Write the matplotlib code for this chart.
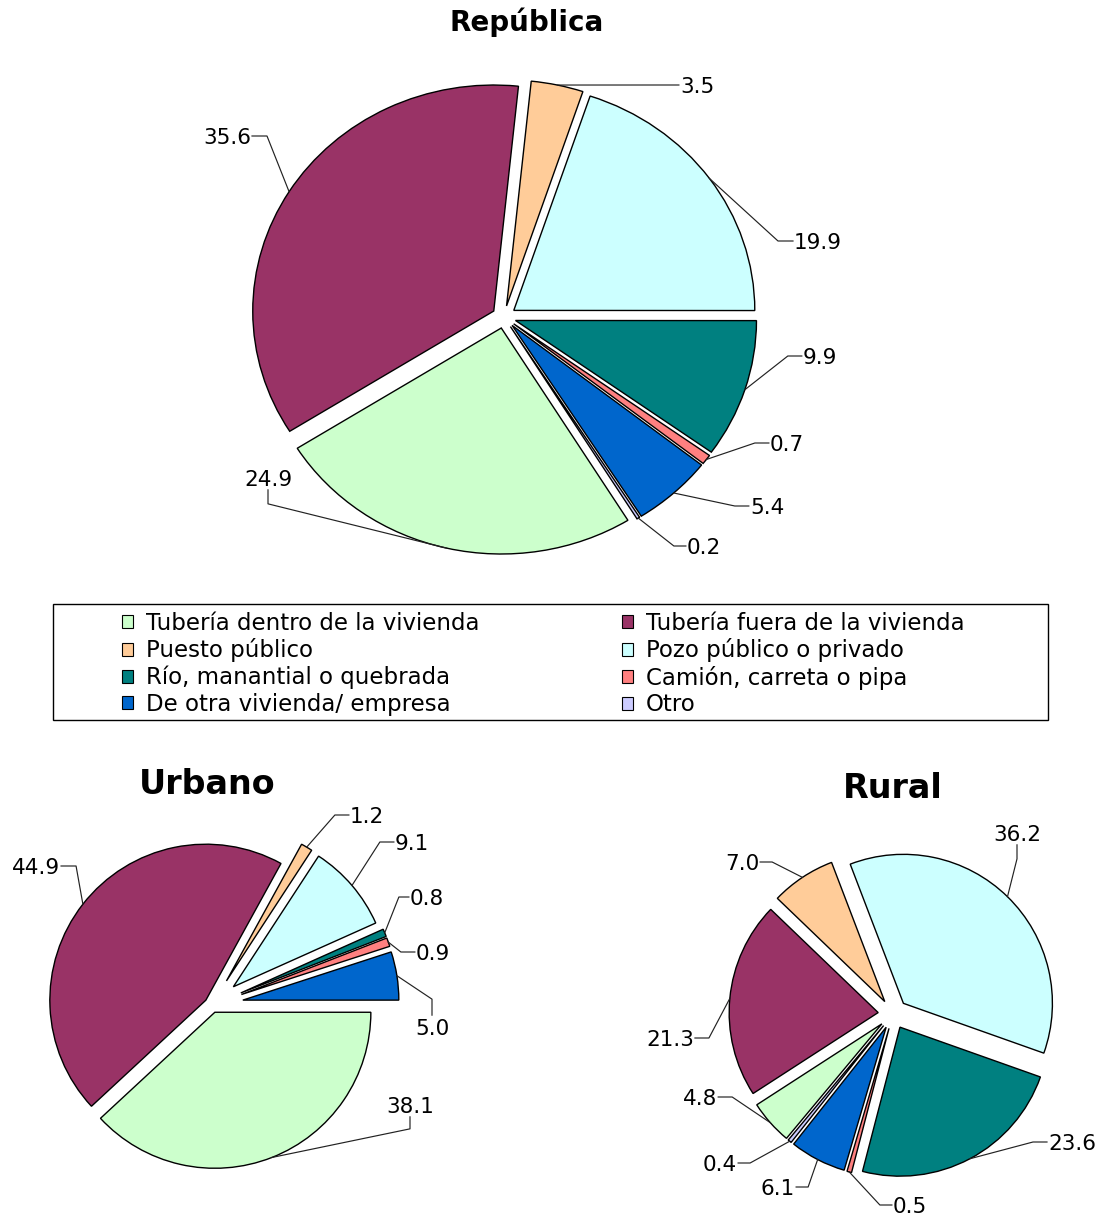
import matplotlib
matplotlib.use("Agg")
import matplotlib.pyplot as plt
from matplotlib.patches import Patch, Rectangle
import numpy as np

# Datos (porcentajes de hogares por fuente de agua)
categorias = ["Tubería dentro de la vivienda", "Tubería fuera de la vivienda",
              "Puesto público", "Pozo público o privado",
              "Río, manantial o quebrada", "Camión, carreta o pipa",
              "De otra vivienda/ empresa", "Otro"]
colores = ["#CCFFCC", "#993366", "#FFCC99", "#CCFFFF",
           "#008080", "#FF8080", "#0066CC", "#CCCCFF"]

republica = [24.9, 35.6, 3.5, 19.9, 9.9, 0.7, 5.4, 0.2]
urbano = [38.1, 44.9, 1.2, 9.1, 0.8, 0.9, 5.0, 0.0]
rural = [4.8, 21.3, 7.0, 36.2, 23.6, 0.5, 6.1, 0.4]

W, H = 1104, 1219
FS_ETIQ = 15.5
FS_LEY = 16.5

fig = plt.figure(figsize=(W / 100, H / 100), dpi=100)
capa = fig.add_axes([0, 0, 1, 1], zorder=5)
capa.set_xlim(0, W)
capa.set_ylim(H, 0)
capa.axis("off")
renderer = fig.canvas.get_renderer()

alto_dig = 0.729 * FS_ETIQ * 100 / 72


def pastel(valores, centro, radios, inicio, explode, etiquetas):
    cx, cy = centro
    rx, ry = radios
    L = 1.3
    ax = fig.add_axes([(cx - L * rx) / W, (H - cy - L * ry) / H,
                       2 * L * rx / W, 2 * L * ry / H])
    idx = [i for i, v in enumerate(valores) if v > 0]
    wedges, _ = ax.pie([valores[i] for i in idx],
                       colors=[colores[i] for i in idx],
                       explode=[explode[i] for i in idx],
                       startangle=inicio, counterclock=False,
                       wedgeprops=dict(edgecolor="black", linewidth=1.0))
    ax.set_aspect("auto")
    ax.set_xlim(-L, L)
    ax.set_ylim(-L, L)
    ax.axis("off")

    for w, i in zip(wedges, idx):
        if i not in etiquetas:
            continue
        tx, ty, lado, codo = etiquetas[i]
        th = np.deg2rad((w.theta1 + w.theta2) / 2)
        ax_x = w.center[0] + w.r * np.cos(th)
        ax_y = w.center[1] + w.r * np.sin(th)
        px, py = ax.transData.transform((ax_x, ax_y))
        py = H - py
        t = capa.text(tx, ty + alto_dig / 2, f"{valores[i]:.1f}",
                      ha="center", va="baseline", fontsize=FS_ETIQ)
        bb = t.get_window_extent(renderer)
        if lado == "l":
            jx, jy = bb.x0 - 1, ty
            ex, ey = jx - codo, jy
        elif lado == "r":
            jx, jy = bb.x1 + 1, ty
            ex, ey = jx + codo, jy
        elif lado == "b":
            jx, jy = tx, ty + alto_dig / 2 + 4
            ex, ey = jx, jy + codo
        else:
            jx, jy = tx, ty - alto_dig / 2 - 4
            ex, ey = jx, jy - codo
        capa.plot([px, ex, jx], [py, ey, jy], color="#222222", lw=0.85)


# posiciones de las etiquetas: (x, y en pixeles, lado de la guia, largo del codo)
etiq_rep = {0: (268, 478, "b", 14), 1: (227, 136, "r", 15),
            2: (697, 85, "l", 15), 3: (818, 241, "l", 15),
            4: (820, 356, "l", 14), 5: (787, 443, "l", 14),
            6: (767, 506, "l", 14), 7: (704, 546, "l", 12)}
etiq_urb = {0: (410, 1105, "b", 12), 1: (36, 866, "r", 15),
            2: (367, 815, "l", 14), 3: (412, 842, "l", 14),
            4: (427, 897, "l", 10), 5: (433, 952, "l", 14),
            6: (432, 1027, "t", 16)}
etiq_rur = {0: (700, 1097, "r", 14), 1: (670, 1038, "r", 14),
            2: (742, 862, "r", 12), 3: (1017, 833, "b", 14),
            4: (1072, 1142, "l", 14), 5: (910, 1205, "l", 12),
            6: (778, 1187, "r", 12), 7: (720, 1163, "r", 12)}

pastel(republica, (504, 317), (241, 226), -58.3, [0.05] * 8, etiq_rep)
pastel(urbano, (212, 1005), (156, 156), 0,
       [0.05, 0.05, 0.18, 0.18, 0.2, 0.2, 0.2, 0.2], etiq_urb)
pastel(rural, (893, 1014), (149, 149), -129.8, [0.1] * 8, etiq_rur)

# titulos
capa.text(527, 22, "República", ha="center", va="center",
          fontsize=20, fontweight="bold")
capa.text(207, 785, "Urbano", ha="center", va="center",
          fontsize=24, fontweight="bold")
capa.text(893, 788, "Rural", ha="center", va="center",
          fontsize=24, fontweight="bold")

# leyenda
fs_px = FS_LEY * 100 / 72
tmp = capa.text(0, 0, categorias[0], fontsize=FS_LEY)
ancho = tmp.get_window_extent(renderer).width
tmp.remove()
col_sep = (500 - 0.5 * fs_px - 0.55 * fs_px - ancho) / fs_px

orden = [0, 2, 4, 6, 1, 3, 5, 7]
manijas = [Patch(facecolor=colores[i], edgecolor="black", linewidth=0.8)
           for i in orden]
fig.legend(manijas, [categorias[i] for i in orden], ncol=2,
           loc="upper left", bbox_to_anchor=(122 / W, 1 - 612 / H),
           frameon=False, fontsize=FS_LEY, handlelength=0.5,
           handleheight=0.5, handletextpad=0.55, columnspacing=col_sep,
           labelspacing=0.15, borderpad=0, borderaxespad=0)
capa.add_patch(Rectangle((53, 604), 995, 116, fill=False,
                         edgecolor="black", linewidth=1.0))

fig.savefig("out.png", dpi=100, facecolor="white")
